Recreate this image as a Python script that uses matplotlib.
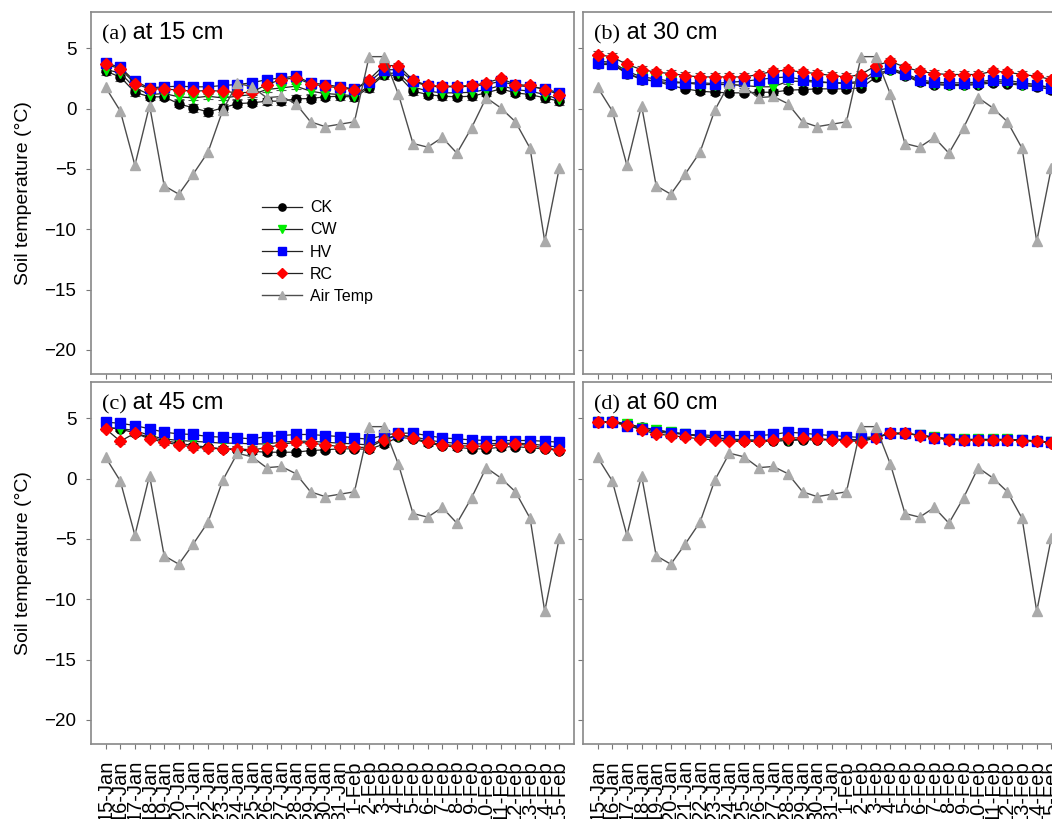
import matplotlib.pyplot as plt

plt.rcParams["font.family"] = ["Liberation Sans", "DejaVu Sans"]

dates = ["15-Jan", "16-Jan", "17-Jan", "18-Jan", "19-Jan", "20-Jan", "21-Jan", "22-Jan",
         "23-Jan", "24-Jan", "25-Jan", "26-Jan", "27-Jan", "28-Jan", "29-Jan", "30-Jan",
         "31-Jan", "1-Feb", "2-Feb", "3-Feb", "4-Feb", "5-Feb", "6-Feb", "7-Feb", "8-Feb",
         "9-Feb", "10-Feb", "11-Feb", "12-Feb", "13-Feb", "14-Feb", "15-Feb"]

air_temp = [1.75, -0.2, -4.7, 0.25, -6.4, -7.1, -5.4, -3.6, -0.15, 2.1, 1.8, 0.9, 1.0, 0.4,
            -1.1, -1.5, -1.3, -1.1, 4.3, 4.3, 1.2, -2.9, -3.2, -2.4, -3.7, -1.6, 0.9, 0.05,
            -1.1, -3.3, -11.0, -4.9]

# 15 cm
ck_15 = [3.09, 2.62, 1.35, 0.97, 0.97, 0.39, 0.05, -0.28, 0.05, 0.41, 0.47, 0.61, 0.61, 0.80,
         0.83, 0.97, 1.02, 0.95, 1.71, 2.78, 2.73, 1.44, 1.16, 1.02, 0.97, 1.02, 1.30, 1.63,
         1.30, 1.16, 0.88, 0.61]
cw_15 = [3.23, 2.95, 1.71, 1.16, 1.24, 0.97, 0.88, 1.02, 0.88, 1.02, 1.16, 1.57, 1.71, 1.85,
         1.44, 1.24, 1.16, 1.05, 1.88, 2.90, 2.95, 1.80, 1.44, 1.30, 1.30, 1.35, 1.57, 1.91,
         1.57, 1.44, 1.16, 0.75]
hv_15 = [3.78, 3.42, 2.26, 1.71, 1.80, 1.85, 1.80, 1.80, 1.91, 1.99, 2.13, 2.40, 2.54, 2.68,
         2.13, 1.99, 1.80, 1.63, 2.20, 3.20, 3.23, 2.26, 1.85, 1.80, 1.80, 1.85, 1.99, 2.26,
         1.91, 1.80, 1.63, 1.30]
rc_15 = [3.65, 3.31, 2.07, 1.63, 1.63, 1.52, 1.44, 1.49, 1.44, 1.30, 1.35, 1.99, 2.40, 2.54,
         2.04, 1.85, 1.71, 1.57, 2.40, 3.56, 3.56, 2.35, 1.91, 1.85, 1.85, 1.91, 2.13, 2.49,
         1.99, 1.91, 1.57, 1.16]

# 30 cm
ck_30 = [3.65, 3.65, 2.90, 2.40, 2.26, 1.91, 1.63, 1.44, 1.35, 1.30, 1.30, 1.35, 1.35, 1.52,
         1.57, 1.63, 1.63, 1.63, 1.71, 2.60, 3.23, 2.73, 2.18, 1.99, 1.91, 1.91, 1.99, 2.13,
         2.07, 1.91, 1.80, 1.57]
cw_30 = [3.92, 3.84, 3.09, 2.62, 2.46, 2.26, 2.13, 1.99, 1.99, 1.99, 1.91, 1.80, 1.80, 2.26,
         2.26, 2.18, 2.13, 2.07, 2.13, 2.85, 3.23, 2.82, 2.26, 2.07, 1.99, 1.99, 2.07, 2.26,
         2.18, 1.99, 1.91, 1.71]
hv_30 = [3.78, 3.73, 2.95, 2.46, 2.26, 2.13, 2.13, 2.13, 2.07, 2.18, 2.26, 2.40, 2.54, 2.62,
         2.40, 2.26, 2.13, 2.13, 2.26, 3.15, 3.37, 2.90, 2.40, 2.18, 2.13, 2.13, 2.18, 2.40,
         2.35, 2.13, 1.99, 1.71]
rc_30 = [4.47, 4.28, 3.65, 3.23, 3.01, 2.90, 2.73, 2.62, 2.62, 2.62, 2.62, 2.82, 3.09, 3.18,
         3.01, 2.90, 2.73, 2.62, 2.82, 3.56, 3.92, 3.42, 3.09, 2.90, 2.82, 2.82, 2.82, 3.09,
         3.01, 2.82, 2.68, 2.40]

# 45 cm
ck_45 = [4.20, 4.12, 3.76, 3.43, 3.15, 2.93, 2.73, 2.60, 2.46, 2.38, 2.26, 2.18, 2.18, 2.18,
         2.32, 2.38, 2.46, 2.46, 2.42, 2.85, 3.43, 3.29, 2.93, 2.73, 2.60, 2.46, 2.46, 2.60,
         2.65, 2.54, 2.46, 2.32]
cw_45 = [4.26, 4.12, 4.00, 3.56, 3.29, 3.15, 3.09, 3.01, 2.93, 2.93, 2.87, 2.87, 3.01, 3.09,
         3.09, 3.01, 2.93, 2.87, 2.78, 3.25, 3.56, 3.48, 3.20, 3.01, 2.93, 2.87, 2.87, 2.93,
         2.93, 2.87, 2.73, 2.60]
hv_45 = [4.67, 4.58, 4.39, 4.12, 3.84, 3.70, 3.65, 3.48, 3.43, 3.37, 3.29, 3.48, 3.56, 3.65,
         3.65, 3.56, 3.48, 3.37, 3.25, 3.60, 3.76, 3.76, 3.56, 3.37, 3.29, 3.20, 3.15, 3.15,
         3.15, 3.15, 3.09, 3.01]
rc_45 = [4.12, 3.09, 3.76, 3.29, 3.01, 2.79, 2.60, 2.51, 2.46, 2.46, 2.38, 2.54, 2.82, 3.01,
         2.93, 2.79, 2.65, 2.60, 2.57, 3.20, 3.70, 3.37, 3.01, 2.82, 2.73, 2.68, 2.68, 2.82,
         2.87, 2.73, 2.54, 2.38]

# 60 cm
ck_60 = [4.67, 4.75, 4.53, 4.26, 4.03, 3.84, 3.70, 3.48, 3.37, 3.20, 3.15, 3.09, 3.09, 3.15,
         3.20, 3.20, 3.20, 3.20, 3.18, 3.43, 3.70, 3.70, 3.62, 3.43, 3.29, 3.20, 3.20, 3.20,
         3.20, 3.15, 3.09, 2.98]
cw_60 = [4.70, 4.72, 4.50, 4.22, 4.00, 3.82, 3.68, 3.50, 3.40, 3.28, 3.22, 3.18, 3.18, 3.22,
         3.25, 3.25, 3.25, 3.25, 3.22, 3.40, 3.72, 3.72, 3.60, 3.42, 3.30, 3.25, 3.25, 3.25,
         3.25, 3.20, 3.12, 3.00]
hv_60 = [4.67, 4.67, 4.39, 4.12, 3.84, 3.76, 3.65, 3.62, 3.56, 3.56, 3.56, 3.56, 3.65, 3.84,
         3.76, 3.65, 3.56, 3.48, 3.40, 3.45, 3.76, 3.76, 3.58, 3.40, 3.25, 3.22, 3.22, 3.22,
         3.22, 3.18, 3.12, 3.00]
rc_60 = [4.67, 4.67, 4.45, 4.03, 3.70, 3.56, 3.43, 3.29, 3.20, 3.09, 3.07, 3.09, 3.20, 3.37,
         3.37, 3.29, 3.20, 3.15, 3.05, 3.37, 3.76, 3.76, 3.56, 3.37, 3.20, 3.20, 3.20, 3.20,
         3.20, 3.15, 3.09, 2.93]

# typical standard errors (CK, CW, HV, RC) per depth
se_15 = [0.3, 0.2, 0.2, 0.2]
se_30 = [0.2, 0.2, 0.2, 0.3]
se_45 = [0.2, 0.2, 0.3, 0.2]
se_60 = [0.1, 0.1, 0.1, 0.1]

treatments = ["CK", "CW", "HV", "RC"]
markers = ["o", "v", "s", "D"]
colors = ["black", "#00ee00", "#0000ff", "#ff0000"]
sizes = [6.5, 7, 7.5, 6.5]

panels = [
    ("(a)", "at 15 cm", [ck_15, cw_15, hv_15, rc_15], se_15),
    ("(b)", "at 30 cm", [ck_30, cw_30, hv_30, rc_30], se_30),
    ("(c)", "at 45 cm", [ck_45, cw_45, hv_45, rc_45], se_45),
    ("(d)", "at 60 cm", [ck_60, cw_60, hv_60, rc_60], se_60),
]

W, H = 1052, 819
fig = plt.figure(figsize=(W / 100, H / 100), dpi=100)

lefts = [91, 583, 91, 583]
tops = [12, 12, 382, 382]
ax_w, ax_h = 483, 362

x = list(range(len(dates)))

for i, (tag, depth, series, se) in enumerate(panels):
    ax = fig.add_axes([lefts[i] / W, 1 - (tops[i] + ax_h) / H, ax_w / W, ax_h / H])

    for j, name in enumerate(treatments):
        ax.errorbar(x, series[j], yerr=se[j], fmt="none", ecolor="#555555",
                    elinewidth=0.8, capsize=3.5, capthick=0.8, zorder=2)
        ax.plot(x, series[j], color="#222222", lw=0.9, marker=markers[j],
                ms=sizes[j], mfc=colors[j], mec=colors[j], label=name, zorder=3 + j)
    ax.plot(x, air_temp, color="#4d4d4d", lw=1, marker="^", ms=7,
            mfc="#aaaaaa", mec="#aaaaaa", label="Air Temp", zorder=8)

    ax.set_xlim(-1, 32)
    ax.set_ylim(-22, 8)
    ax.set_yticks([-20, -15, -10, -5, 0, 5])
    ax.set_xticks(x)
    for sp in ax.spines.values():
        sp.set_color("#888888")
        sp.set_linewidth(1.2)
    ax.tick_params(direction="out", length=3.6, width=0.8, color="#777777",
                   labelsize=13.5, pad=7)
    ax.tick_params(axis="x", labelsize=14.5, pad=8)

    if i >= 2:
        ax.set_xticklabels(dates, rotation=90)
    else:
        ax.set_xticklabels([])
    if i % 2 == 0:
        ax.set_ylabel("Soil temperature (°C)", fontsize=14)
        ax.yaxis.set_label_coords(-0.122, 0.5)
    else:
        ax.set_yticklabels([])

    t = ax.text(0.022, 0.925, tag, transform=ax.transAxes, fontsize=16,
                family=["Liberation Serif", "DejaVu Serif"], va="baseline")
    ax.annotate(" " + depth, xy=(1, 0), xycoords=t, fontsize=17, va="bottom")

    if i == 0:
        ax.legend(loc="center left", bbox_to_anchor=(0.354, 0.337), frameon=False,
                  fontsize=11.5, handlelength=2.5, handletextpad=0.5, labelspacing=0.45,
                  borderpad=0, borderaxespad=0, markerscale=0.8)

fig.savefig("out.png", dpi=100)
